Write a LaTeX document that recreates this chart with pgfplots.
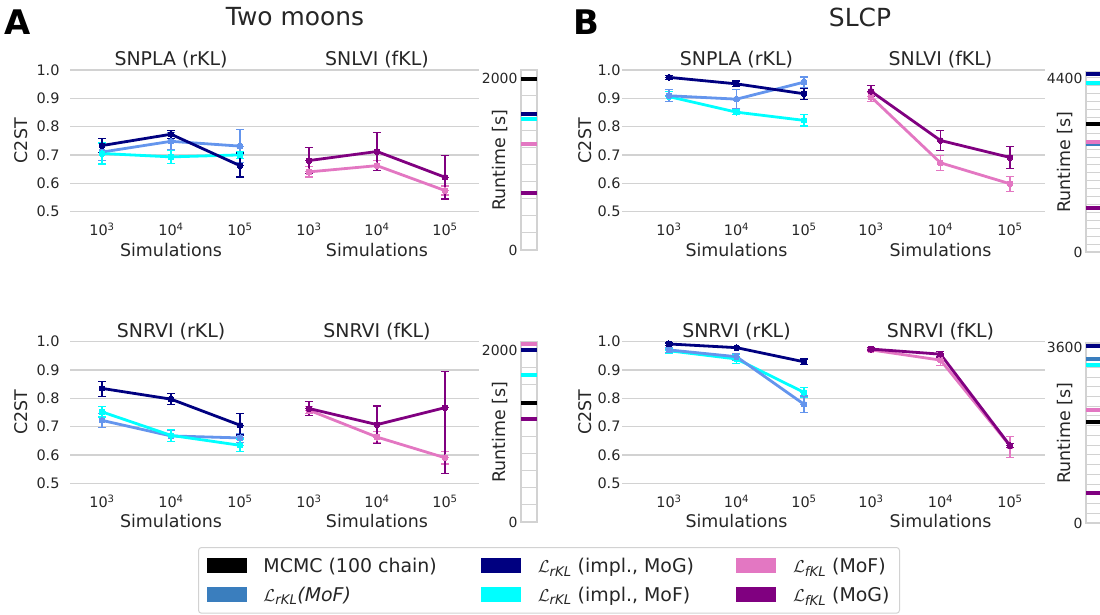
\documentclass[border=0pt]{standalone}
\usepackage{fontspec}
\setmainfont{DejaVu Sans}
\usepackage{pgfplots}
\pgfplotsset{compat=1.18}

\definecolor{txt}{RGB}{38,38,38}
\definecolor{gridc}{RGB}{210,210,210}
\definecolor{cNavy}{RGB}{0,0,128}
\definecolor{cCorn}{RGB}{100,149,237}
\definecolor{cSteel}{RGB}{58,126,190}
\definecolor{cCyan}{RGB}{0,255,255}
\definecolor{cPink}{RGB}{227,119,194}
\definecolor{cPurple}{RGB}{128,0,128}

\pgfplotsset{
  c2st/.style={
    scale only axis, anchor=north west, height=141.5bp,
    ymin=0.5, ymax=1.0, clip=false,
    ytick={0.5,0.6,0.7,0.8,0.9,1.0},
    xtick={0,1,2},
    xticklabels={10\textsuperscript{3},10\textsuperscript{4},10\textsuperscript{5}},
    ymajorgrids, major grid style={draw=gridc, line width=1.3bp},
    axis line style={draw=none}, major tick length=0pt, tick style={draw=none},
    tick label style={font=\fontsize{14.5}{16}\selectfont, text=txt},
    xticklabel style={yshift=-8bp},
    xlabel={Simulations},
    label style={font=\fontsize{17.5}{20}\selectfont, text=txt},
    xlabel style={at={(axis description cs:#1,0)}, anchor=center, yshift=-38bp},
    title style={at={(axis description cs:#1,1)}, anchor=center, yshift=4bp,
                 font=\fontsize{19}{22}\selectfont, text=txt},
  },
  c2stleft/.style={
    yticklabels={0.5,0.6,0.7,0.8,0.9,1.0},
    ylabel={C2ST},
    ylabel style={at={(axis description cs:#1,0.5)}, anchor=center},
  },
  c2stright/.style={yticklabels={}},
  strip/.style={
    scale only axis, anchor=north west, width=16bp, height=180bp,
    xmin=0, xmax=1, ymin=0, xtick=\empty,
    axis line style={draw=gridc, line width=1.2bp},
    grid=both, major grid style={draw=gridc, line width=1bp},
    minor grid style={draw=gridc, line width=1bp},
    major tick length=0pt, minor tick length=0pt, tick style={draw=none},
    tick label style={font=\fontsize{14}{16}\selectfont, text=txt},
    ylabel={Runtime [s]},
    ylabel style={at={(axis description cs:-1.3,0.5)}, anchor=center,
                  font=\fontsize{17.5}{20}\selectfont, text=txt},
  },
  rt/.style={#1, line width=4bp, forget plot},
  ser/.style={
    color=#1, line width=2.8bp, line join=round,
    mark=*, mark size=3bp, mark options={solid, fill=#1, draw=#1, line width=0pt},
    /pgfplots/error bars/y dir=both,
    /pgfplots/error bars/y explicit,
    /pgfplots/error bars/error bar style={line width=1.2bp, color=#1},
    /pgfplots/error bars/error mark options={rotate=90, mark size=4bp, line width=1.2bp, color=#1},
  },
}

\begin{document}
\begin{tikzpicture}

% ---------------- Two moons ----------------
\node[font=\fontsize{34}{34}\selectfont\bfseries, text=black] at (18bp,-22bp) {A};
\node[font=\fontsize{25}{28}\selectfont, text=txt] at (295bp,-17bp) {Two moons};

\begin{axis}[c2st=0.494, c2stleft=-0.24, at={(70bp,-70bp)}, width=204.5bp,
  xmin=-0.464, xmax=2.5, title={SNPLA (rKL)}, yticklabel style={xshift=-7bp}]
\addplot[ser=cCorn] coordinates {(0,0.710) +- (0,0.030) (1,0.748) +- (0,0.030) (2,0.731) +- (0,0.058)};
\addplot[ser=cCyan] coordinates {(0,0.705) +- (0,0.037) (1,0.693) +- (0,0.022) (2,0.700) +- (0,0.012)};
\addplot[ser=cNavy] coordinates {(0,0.733) +- (0,0.025) (1,0.773) +- (0,0.014) (2,0.662) += (0,0.045) -= (0,0.040)};
\end{axis}

\begin{axis}[c2st=0.501, c2stright, at={(274.5bp,-70bp)}, width=204.5bp,
  xmin=-0.507, xmax=2.5, title={SNLVI (fKL)}]
\addplot[ser=cPink] coordinates {(0,0.640) +- (0,0.018) (1,0.662) +- (0,0.018) (2,0.574) +- (0,0.016)};
\addplot[ser=cPurple] coordinates {(0,0.680) +- (0,0.045) (1,0.712) +- (0,0.068) (2,0.621) +- (0,0.077)};
\end{axis}

\begin{axis}[strip, at={(521bp,-70bp)}, ymax=2100, ytick={0,2000}, yticklabels={0,2000},
  minor ytick={200,400,...,1800}]
\addplot[rt=black]   coordinates {(0,2000) (1,2000)};
\addplot[rt=cNavy]   coordinates {(0,1592) (1,1592)};
\addplot[rt=cCyan]   coordinates {(0,1526) (1,1526)};
\addplot[rt=cPink]   coordinates {(0,1235) (1,1235)};
\addplot[rt=cPurple] coordinates {(0,660) (1,660)};
\end{axis}

\begin{axis}[c2st=0.494, c2stleft=-0.24, at={(70bp,-341.7bp)}, width=204.5bp,
  xmin=-0.464, xmax=2.5, title={SNRVI (rKL)}, yticklabel style={xshift=-7bp}]
\addplot[ser=cCorn] coordinates {(0,0.722) +- (0,0.024) (1,0.667) +- (0,0.020) (2,0.660) +- (0,0.016)};
\addplot[ser=cCyan] coordinates {(0,0.752) +- (0,0.018) (1,0.669) +- (0,0.022) (2,0.634) +- (0,0.022)};
\addplot[ser=cNavy] coordinates {(0,0.835) += (0,0.024) -= (0,0.028) (1,0.797) +- (0,0.020) (2,0.705) += (0,0.040) -= (0,0.035)};
\end{axis}

\begin{axis}[c2st=0.501, c2stright, at={(274.5bp,-341.7bp)}, width=204.5bp,
  xmin=-0.507, xmax=2.5, title={SNRVI (fKL)}]
\addplot[ser=cPink] coordinates {(0,0.758) +- (0,0.013) (1,0.663) +- (0,0.020) (2,0.590) +- (0,0.022)};
\addplot[ser=cPurple] coordinates {(0,0.764) +- (0,0.024) (1,0.707) +- (0,0.066) (2,0.767) += (0,0.129) -= (0,0.232)};
\end{axis}

\begin{axis}[strip, at={(521bp,-342bp)}, ymax=2100, ytick={0,2000}, yticklabels={0,2000},
  minor ytick={200,400,...,1800}]
\addplot[rt=black]   coordinates {(0,1385) (1,1385)};
\addplot[rt=cPurple] coordinates {(0,1198) (1,1198)};
\addplot[rt=cCyan]   coordinates {(0,1716) (1,1716)};
\addplot[rt=cNavy]   coordinates {(0,2008) (1,2008)};
\addplot[rt=cPink]   coordinates {(0,2078) (1,2078)};
\end{axis}

% ---------------- SLCP ----------------
\node[font=\fontsize{34}{34}\selectfont\bfseries, text=black] at (586bp,-22bp) {B};
\node[font=\fontsize{25}{28}\selectfont, text=txt] at (860bp,-17bp) {SLCP};

\begin{axis}[c2st=0.5325, c2stleft=-0.172, at={(622bp,-70bp)}, width=215bp,
  xmin=-0.696, xmax=2.489, title={SNPLA (rKL)}, yticklabel style={xshift=2bp}]
\addplot[ser=cCyan] coordinates {(0,0.906) +- (0,0.017) (1,0.851) +- (0,0.008) (2,0.822) +- (0,0.020)};
\addplot[ser=cCorn] coordinates {(0,0.909) +- (0,0.021) (1,0.897) +- (0,0.033) (2,0.957) +- (0,0.018)};
\addplot[ser=cNavy] coordinates {(0,0.974) +- (0,0.007) (1,0.951) +- (0,0.010) (2,0.916) +- (0,0.020)};
\end{axis}

\begin{axis}[c2st=0.4975, c2stright, at={(837bp,-70bp)}, width=208bp,
  xmin=-0.489, xmax=2.504, title={SNLVI (fKL)}]
\addplot[ser=cPink] coordinates {(0,0.905) +- (0,0.017) (1,0.672) +- (0,0.026) (2,0.598) +- (0,0.026)};
\addplot[ser=cPurple] coordinates {(0,0.925) +- (0,0.020) (1,0.751) +- (0,0.035) (2,0.691) +- (0,0.040)};
\end{axis}

\begin{axis}[strip, at={(1086bp,-72bp)}, ymax=4550, ytick={0,4400}, yticklabels={0,4400},
  minor ytick={200,400,...,4200}]
\addplot[rt=cSteel]  coordinates {(0,2731) (1,2731)};
\addplot[rt=cPink]   coordinates {(0,2782) (1,2782)};
\addplot[rt=black]   coordinates {(0,3229) (1,3229)};
\addplot[rt=cCyan]   coordinates {(0,4266) (1,4266)};
\addplot[rt=cNavy]   coordinates {(0,4494) (1,4494)};
\addplot[rt=cPurple] coordinates {(0,1113) (1,1113)};
\end{axis}

\begin{axis}[c2st=0.5325, c2stleft=-0.172, at={(622bp,-341.7bp)}, width=215bp,
  xmin=-0.696, xmax=2.489, title={SNRVI (rKL)}, yticklabel style={xshift=2bp}]
\addplot[ser=cCyan] coordinates {(0,0.968) +- (0,0.008) (1,0.939) +- (0,0.017) (2,0.821) +- (0,0.018)};
\addplot[ser=cCorn] coordinates {(0,0.971) +- (0,0.009) (1,0.947) +- (0,0.012) (2,0.779) +- (0,0.029)};
\addplot[ser=cNavy] coordinates {(0,0.992) +- (0,0.004) (1,0.979) +- (0,0.004) (2,0.929) +- (0,0.010)};
\end{axis}

\begin{axis}[c2st=0.4975, c2stright, at={(837bp,-341.7bp)}, width=208bp,
  xmin=-0.489, xmax=2.504, title={SNRVI (fKL)}]
\addplot[ser=cPink] coordinates {(0,0.971) +- (0,0.006) (1,0.935) +- (0,0.020) (2,0.632) += (0,0.033) -= (0,0.040)};
\addplot[ser=cPurple] coordinates {(0,0.974) +- (0,0.005) (1,0.956) +- (0,0.010) (2,0.633) +- (0,0.006)};
\end{axis}

\begin{axis}[strip, at={(1086bp,-343bp)}, ymax=3700, ytick={0,3600}, yticklabels={0,3600},
  minor ytick={200,400,...,3400}]
\addplot[rt=cPurple] coordinates {(0,607) (1,607)};
\addplot[rt=black]   coordinates {(0,2084) (1,2084)};
\addplot[rt=cPink]   coordinates {(0,2325) (1,2325)};
\addplot[rt=cCyan]   coordinates {(0,3255) (1,3255)};
\addplot[rt=cSteel]  coordinates {(0,3373) (1,3373)};
\addplot[rt=cNavy]   coordinates {(0,3647) (1,3647)};
\end{axis}

% ---------------- shared legend ----------------
\begin{axis}[at={(198bp,-547bp)}, anchor=north west, scale only axis,
  width=10bp, height=10bp, hide axis, xmin=0, xmax=1, ymin=0, ymax=1,
  legend columns=3, legend cell align=left,
  legend image code/.code={\fill[#1, sharp corners] (0bp,-7.5bp) rectangle (40bp,7.5bp);},
  legend style={at={(0,1)}, anchor=north west, draw=gridc, line width=1bp,
    rounded corners=3bp, font=\fontsize{19}{21}\selectfont, text=txt,
    inner xsep=8bp, inner ysep=8.5bp, row sep=9bp,
    /tikz/column 1/.style={column sep=15bp},
    /tikz/column 2/.style={column sep=42bp},
    /tikz/column 3/.style={column sep=15bp},
    /tikz/column 4/.style={column sep=40bp},
    /tikz/column 5/.style={column sep=15bp}}]
\addlegendimage{fill=black, draw=none}
\addlegendentry{MCMC (100 chain)}
\addlegendimage{fill=cNavy, draw=none}
\addlegendentry{$\mathcal{L}$\textsubscript{\itshape rKL} (impl., MoG)}
\addlegendimage{fill=cPink, draw=none}
\addlegendentry{$\mathcal{L}$\textsubscript{\itshape fKL} (MoF)}
\addlegendimage{fill=cSteel, draw=none}
\addlegendentry{$\mathcal{L}$\textsubscript{\itshape rKL}\textit{(MoF)}}
\addlegendimage{fill=cCyan, draw=none}
\addlegendentry{$\mathcal{L}$\textsubscript{\itshape rKL} (impl., MoF)}
\addlegendimage{fill=cPurple, draw=none}
\addlegendentry{$\mathcal{L}$\textsubscript{\itshape fKL} (MoG)}
\end{axis}

\pgfresetboundingbox
\path[use as bounding box] (0bp,0bp) rectangle (1100bp,-615bp);
\end{tikzpicture}
\end{document}
